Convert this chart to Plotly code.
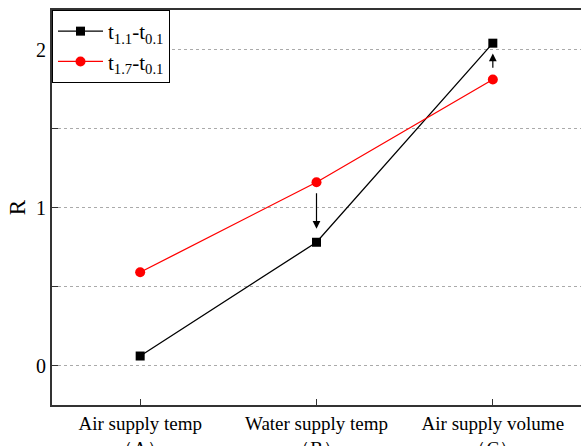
import plotly.graph_objects as go

categories = ["Air supply temp<br>（A）", "Water supply temp<br>（B）", "Air supply volume<br>（C）"]
series1_name = "t<sub>1.1</sub>-t<sub>0.1</sub>"
series1 = [0.06, 0.78, 2.04]
series2_name = "t<sub>1.7</sub>-t<sub>0.1</sub>"
series2 = [0.59, 1.16, 1.81]
y_ticks = [0, 1, 2]

font_family = "Liberation Serif, Times New Roman, serif"
xs = list(range(len(categories)))

fig = go.Figure()
fig.add_trace(go.Scatter(x=xs, y=series1, name=series1_name, mode="lines+markers",
                         line=dict(color="black", width=1.3),
                         marker=dict(symbol="square", size=9, color="black")))
fig.add_trace(go.Scatter(x=xs, y=series2, name=series2_name, mode="lines+markers",
                         line=dict(color="red", width=1.3),
                         marker=dict(symbol="circle", size=10, color="red")))

# arrows
fig.add_annotation(x=1, y=0.865, ax=1, ay=1.10, xref="x", yref="y", axref="x", ayref="y",
                   showarrow=True, arrowhead=2, arrowsize=1.3, arrowwidth=1.2, arrowcolor="black", text="")
fig.add_annotation(x=2, y=1.975, ax=2, ay=1.875, xref="x", yref="y", axref="x", ayref="y",
                   showarrow=True, arrowhead=2, arrowsize=1.3, arrowwidth=1.2, arrowcolor="black", text="")

fig.update_layout(
    width=581, height=446,
    margin=dict(l=52, r=0, t=10, b=41, autoexpand=False),
    plot_bgcolor="white", paper_bgcolor="white",
    font=dict(family=font_family, size=19, color="black"),
    showlegend=True,
    legend=dict(x=0, y=1, xanchor="left", yanchor="top", bgcolor="white",
                bordercolor="black", borderwidth=1, font=dict(size=21),
                itemwidth=45, tracegroupgap=0),
)
fig.update_xaxes(range=[-0.5, 2.5], tickmode="array", tickvals=xs, ticktext=categories,
                 showline=True, linecolor="#333", linewidth=2, mirror=True,
                 ticks="inside", ticklen=6, tickcolor="#333", tickwidth=1,
                 showgrid=False, zeroline=False, tickfont=dict(size=19),
                 automargin=False)
fig.update_yaxes(range=[-0.25, 2.25], tickmode="array", tickvals=y_ticks,
                 showline=True, linecolor="#333", linewidth=2,
                 ticks="inside", ticklen=6, tickcolor="#333", tickwidth=1,
                 minor=dict(tickvals=[0.5, 1.5], ticks="inside", ticklen=6, tickcolor="#333",
                            showgrid=True, gridcolor="#aaa", griddash="dot", gridwidth=1),
                 showgrid=True, gridcolor="#aaa", griddash="dot", gridwidth=1,
                 zeroline=False, title=dict(text="R", standoff=4), tickfont=dict(size=20),
                 automargin=False)

fig.write_html("out.html")
